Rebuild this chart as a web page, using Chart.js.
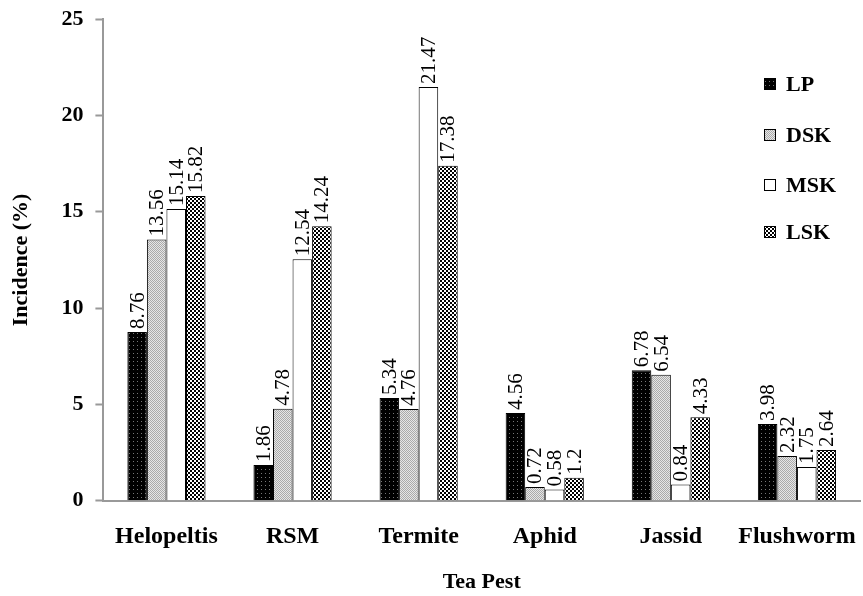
<!DOCTYPE html>
<html>
<head>
<meta charset="utf-8">
<script src="https://cdn.jsdelivr.net/npm/chart.js@4"></script>
<style>
  html, body { margin: 0; padding: 0; background: #fff; }
  #wrap { width: 863px; height: 596px; }
</style>
</head>
<body>
<div id="wrap"><canvas id="pestChart" width="863" height="596"></canvas></div>
<script>
// Data
const pests = ['Helopeltis', 'RSM', 'Termite', 'Aphid', 'Jassid', 'Flushworm'];
const seriesNames = ['LP', 'DSK', 'MSK', 'LSK'];
const lpValues  = [8.76, 1.86, 5.34, 4.56, 6.78, 3.98];
const dskValues = [13.56, 4.78, 4.76, 0.72, 6.54, 2.32];
const mskValues = [15.14, 12.54, 21.47, 0.58, 0.84, 1.75];
const lskValues = [15.82, 14.24, 17.38, 1.2, 4.33, 2.64];
const yTicks = [0, 5, 10, 15, 20, 25];

const SERIF = '"Liberation Serif", "DejaVu Serif", serif';

// small tiles for the hatch fills
function makePattern(size, draw) {
    const c = document.createElement('canvas');
    c.width = size; c.height = size;
    const g = c.getContext('2d');
    draw(g);
    return document.getElementById('pestChart').getContext('2d').createPattern(c, 'repeat');
}

const fills = [
    makePattern(4, g => {           // black with sparse dots
        g.fillStyle = '#000'; g.fillRect(0, 0, 4, 4);
        g.fillStyle = '#777'; g.fillRect(1, 1, 1, 1);
    }),
    makePattern(2, g => {           // light grey dither
        g.fillStyle = '#e6e6e6'; g.fillRect(0, 0, 2, 2);
        g.fillStyle = '#aaa'; g.fillRect(0, 0, 1, 1); g.fillRect(1, 1, 1, 1);
    }),
    '#ffffff',
    makePattern(4, g => {           // checker
        g.fillStyle = '#fff'; g.fillRect(0, 0, 4, 4);
        g.fillStyle = '#000'; g.fillRect(0, 0, 2, 2); g.fillRect(2, 2, 2, 2);
    })
];

const allValues = [lpValues, dskValues, mskValues, lskValues];

// value labels, rotated, sitting on each bar
const barLabels = {
    id: 'barLabels',
    afterDatasetsDraw(chart) {
        const ctx = chart.ctx;
        ctx.save();
        ctx.font = '21px ' + SERIF;
        ctx.fillStyle = '#000';
        ctx.textAlign = 'left';
        ctx.textBaseline = 'middle';
        chart.data.datasets.forEach((ds, i) => {
            chart.getDatasetMeta(i).data.forEach((bar, j) => {
                ctx.save();
                ctx.translate(bar.x + 1, bar.y - 3);
                ctx.rotate(-Math.PI / 2);
                ctx.fillText(String(ds.data[j]), 0, 0);
                ctx.restore();
            });
        });
        ctx.restore();
    }
};

// legend stacked at the upper right
const sideLegend = {
    id: 'sideLegend',
    afterDraw(chart) {
        const ctx = chart.ctx;
        const ys = [84, 135, 185, 232];
        ctx.save();
        ctx.font = 'bold 22px ' + SERIF;
        ctx.textBaseline = 'middle';
        seriesNames.forEach((name, i) => {
            ctx.fillStyle = fills[i];
            ctx.fillRect(764, ys[i] - 6, 12, 12);
            ctx.strokeStyle = '#000';
            ctx.lineWidth = 1;
            ctx.strokeRect(764.5, ys[i] - 5.5, 11, 11);
            ctx.fillStyle = '#000';
            ctx.fillText(name, 786, ys[i] + 1);
        });
        ctx.restore();
    }
};

new Chart(document.getElementById('pestChart'), {
    type: 'bar',
    data: {
        labels: pests,
        datasets: seriesNames.map((name, i) => ({
            label: name,
            data: allValues[i],
            backgroundColor: fills[i],
            borderColor: '#000',
            borderWidth: 1,
            categoryPercentage: 0.62,
            barPercentage: 1.0
        }))
    },
    options: {
        responsive: false,
        animation: false,
        layout: { padding: { top: 19, right: 3, left: 0, bottom: 0 } },
        plugins: {
            legend: { display: false },
            tooltip: { enabled: false }
        },
        scales: {
            x: {
                // let the last label run to the edge like the original
                afterFit: s => { s.paddingLeft = 0; s.paddingRight = 0; },
                grid: { display: false, drawTicks: false },
                border: { color: '#999', width: 2 },
                ticks: { color: '#000', font: { family: SERIF, size: 24, weight: 'bold' }, padding: 22, maxRotation: 0 },
                title: { display: true, text: 'Tea Pest', color: '#000', font: { family: SERIF, size: 22, weight: 'bold' }, padding: { top: -4, bottom: 0 } }
            },
            y: {
                min: 0, max: 25,
                afterFit: s => { s.paddingTop = 0; },
                afterBuildTicks: axis => { axis.ticks = yTicks.map(v => ({ value: v })); },
                grid: { drawOnChartArea: false, tickLength: 8, color: '#999', tickWidth: 2 },
                border: { color: '#999', width: 2 },
                ticks: { color: '#000', font: { family: SERIF, size: 22, weight: 'bold' }, padding: 12 },
                title: { display: true, text: 'Incidence (%)', color: '#000', font: { family: SERIF, size: 22, weight: 'bold' }, padding: { top: 8, bottom: 15 } }
            }
        }
    },
    plugins: [barLabels, sideLegend]
});
</script>
</body>
</html>
